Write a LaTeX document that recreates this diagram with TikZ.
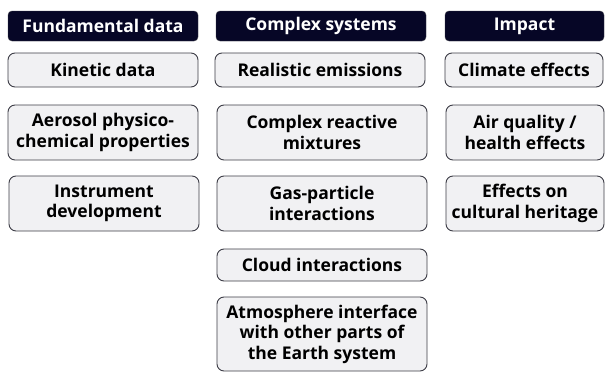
\documentclass[tikz,border=0pt]{standalone}
\usepackage{fontspec}
\setmainfont{Open Sans}
\usepackage{xcolor}
\definecolor{navy}{RGB}{6,6,38}
\definecolor{boxgray}{RGB}{241,241,243}
\definecolor{edgegray}{RGB}{60,60,70}

\begin{document}
\begin{tikzpicture}[x=1pt,y=-1pt,
    hdr/.style={fill=navy,draw=edgegray,rounded corners=4pt,text=white,
        font=\fontsize{17.5}{20}\selectfont\bfseries,inner sep=0pt},
    item/.style={fill=boxgray,draw=edgegray,line width=0.9pt,rounded corners=7pt,
        font=\fontsize{17.5}{20.5}\selectfont\bfseries,align=center,inner sep=0pt}]
                \useasboundingbox (0,0) rectangle (606,372);
                
                % Headers
                \node[hdr,minimum width=190pt,minimum height=30pt] (fund) at (103,26) {Fundamental data};
                \node[hdr,minimum width=210pt,minimum height=30pt] (comp) at (321,26) {Complex systems};
                \node[hdr,minimum width=159pt,minimum height=30pt] (imp) at (524.5,26) {Impact};
                
                % Fundamental data
                \node[item,minimum width=190pt,minimum height=34pt] (kin) at (103,70) {Kinetic data};
                \node[item,minimum width=190pt,minimum height=55pt] (aer) at (103,132.5) {Aerosol physico-\\chemical properties};
                \node[item,minimum width=190pt,minimum height=55pt] (ins) at (104,203.5) {Instrument\\development};
                
                % Complex systems
                \node[item,minimum width=210pt,minimum height=34pt] (emi) at (320,70) {Realistic emissions};
                \node[item,minimum width=210pt,minimum height=55pt] (mix) at (322,132.5) {Complex reactive\\mixtures};
                \node[item,minimum width=210pt,minimum height=55pt] (gas) at (322,203.5) {Gas-particle\\interactions};
                \node[item,minimum width=210pt,minimum height=32pt] (cld) at (322,265) {Cloud interactions};
                \node[item,minimum width=210pt,minimum height=74pt] (atm) at (322,334) {Atmosphere interface\\with other parts of\\the Earth system};
                
                % Impact
                \node[item,minimum width=158pt,minimum height=34pt] (cli) at (524,70) {Climate effects};
                \node[item,minimum width=158pt,minimum height=55pt] (air) at (525,132.5) {Air quality /\\health effects};
                \node[item,minimum width=158pt,minimum height=55pt] (her) at (525,203.5) {Effects on\\cultural heritage};
            \end{tikzpicture}
\end{document}
